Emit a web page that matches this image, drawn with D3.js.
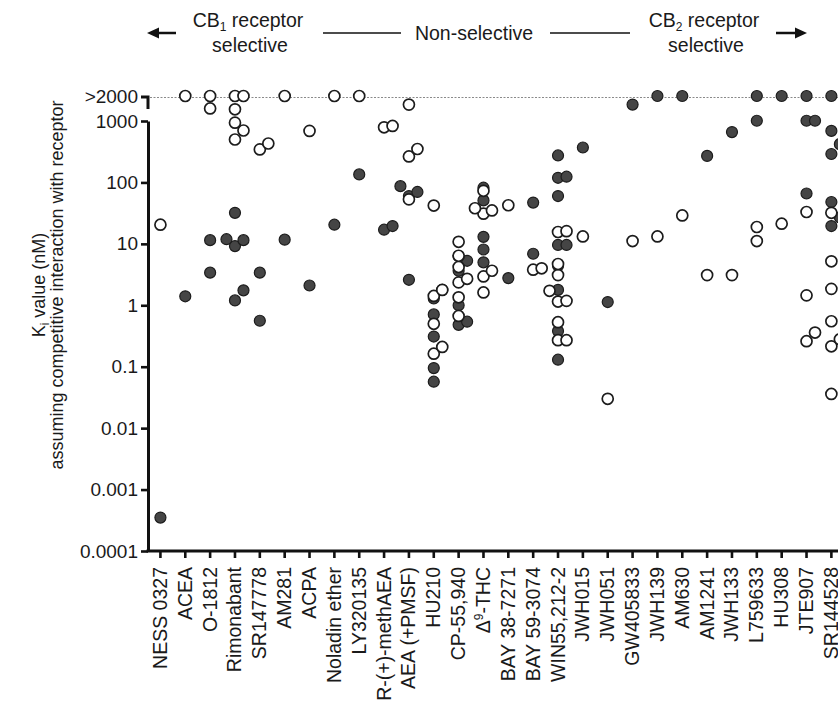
<!DOCTYPE html>
<html lang="en">
<head>
<meta charset="UTF-8">
<script src="https://d3js.org/d3.v7.min.js"></script>
<style>
    body { margin: 0; background: #fff; }
    svg { display: block; font-family: "Liberation Sans", Arial, sans-serif; }
    .cb1 { fill: #454545; stroke: #1c1c1c; stroke-width: 1.2; }
    .cb2 { fill: #fff; stroke: #1c1c1c; stroke-width: 1.7; }
    .axis .domain { stroke: #111; stroke-width: 3; }
    .axis .tick line { stroke: #111; stroke-width: 2.6; }
    .axis text { fill: #1a1a1a; font-size: 19px; font-family: "Liberation Sans", Arial, sans-serif; }
    .head { fill: #1a1a1a; font-size: 19.5px; }
    .rule { stroke: #111; }
</style>
</head>
<body>
<div class="chart"></div>
<script>
const OVER = '>2000'

const compounds = ['NESS 0327', 'ACEA', 'O-1812', 'Rimonabant', 'SR147778', 'AM281', 'ACPA',
    'Noladin ether', 'LY320135', 'R-(+)-methAEA', 'AEA (+PMSF)', 'HU210', 'CP-55,940', 'Δ9-THC',
    'BAY 38-7271', 'BAY 59-3074', 'WIN55,212-2', 'JWH015', 'JWH051', 'GW405833', 'JWH139', 'AM630',
    'AM1241', 'JWH133', 'L759633', 'HU308', 'JTE907', 'SR144528']

// filled symbols
const cb1Ki = [
    [0.00035], [1.4], [3.4, 11.5], [1.2, 1.75, 9.2, 11.5, 11.9, 32], [0.56, 3.4], [11.7], [2.1],
    [20.5], [135], [17, 19.5], [2.6, 60, 70, 87], [0.057, 0.095, 0.31, 0.71, 1.29, 1.78],
    [0.48, 0.54, 1.0, 3.65, 5.3, 6.3], [5.0, 8.1, 13, 51, 82], [2.77], [6.9, 47],
    [0.13, 0.38, 1.78, 4.4, 9.6, 9.6, 60, 119, 124, 275], [370], [1.13], [1850], [OVER], [OVER],
    [270], [660], [1010, OVER], [OVER], [66, 1010, 1010, OVER], [19.5, 27, 48, 290, 420, 690, OVER]
]
// open symbols
const cb2Ki = [
    [20.5], [OVER], [1600, OVER], [500, 700, 940, 1550, OVER, OVER], [345, 430], [OVER], [690],
    [OVER], [OVER], [790, 830], [53, 265, 350, 1850], [0.163, 0.21, 0.5, 1.42, 1.78, 42],
    [0.67, 1.35, 2.36, 2.7, 4.2, 6.4, 10.8], [1.62, 2.95, 3.65, 31, 35, 38, 73], [42.5], [3.8, 4.0],
    [0.27, 0.27, 0.53, 1.15, 1.18, 1.72, 3.1, 4.7, 15.6, 16.1], [13.2], [0.03], [11.1], [13.2], [29],
    [3.1], [3.1], [11.1, 18.8], [21.3], [0.26, 0.36, 1.45, 33], [0.036, 0.215, 0.28, 0.55, 1.85, 5.2, 32]
]

const yTicks = [0.0001, 0.001, 0.01, 0.1, 1, 10, 100, 1000]
const yTickLabels = ['0.0001', '0.001', '0.01', '0.1', '1', '10', '100', '1000']

const width = 838, height = 704

const svg = d3.select('.chart').append('svg')
    .attr('width', width)
    .attr('height', height)

const x = d3.scaleBand()
    .domain(compounds)
    .range([148, 148 + compounds.length * 24.85])

const y = d3.scaleLog()
    .domain([0.0001, 1000])
    .range([551, 121])

// the ">2000" row sits above the axis break
const yOver = d3.scaleOrdinal().domain([OVER]).range([96])
const yPos = v => v === OVER ? yOver(v) : y(v)

// dotted guide for >2000
svg.append('line')
    .attr('x1', 150).attr('x2', width)
    .attr('y1', yOver(OVER) + 1.5).attr('y2', yOver(OVER) + 1.5)
    .attr('stroke', '#8a8a8a')
    .attr('stroke-width', 1)
    .attr('stroke-dasharray', '2,1.5')

// y axis
svg.append('g')
    .attr('class', 'axis')
    .attr('transform', 'translate(148,0)')
    .call(d3.axisLeft(y).tickValues(yTicks).tickFormat((d, i) => yTickLabels[i])
        .tickSize(7).tickSizeOuter(0).tickPadding(3))

// break bracket with the >2000 tick
const brk = svg.append('g').attr('class', 'axis')
brk.append('path')
    .attr('d', `M141,${yOver(OVER) + 1}H148V${yOver(OVER) + 13}`)
    .attr('fill', 'none').attr('stroke', '#111').attr('stroke-width', 3)
brk.append('text')
    .attr('x', 138).attr('y', yOver(OVER) + 1).attr('dy', '0.32em')
    .attr('text-anchor', 'end')
    .text(OVER)

// x axis
const xAxis = svg.append('g')
    .attr('class', 'axis')
    .attr('transform', 'translate(0,551)')
    .call(d3.axisBottom(x).tickSize(7).tickSizeOuter(0))

xAxis.select('.domain').attr('d', `M146.5,0H${width + 10}`)

xAxis.selectAll('.tick text')
    .attr('text-anchor', 'end')
    .attr('dy', null)
    .attr('x', -16)
    .attr('y', 6.5)
    .attr('transform', 'rotate(-90)')
    .style('font-size', '19.5px')
    .each(function(d) {
        if (d !== 'Δ9-THC') return
        const t = d3.select(this).text('')
        t.append('tspan').text('Δ')
        t.append('tspan').attr('dy', -7).style('font-size', '12px').text('9')
        t.append('tspan').attr('dy', 7).text('-THC')
    })

// y title
const ytitle = svg.append('g').attr('class', 'head').style('font-size', '18px')
const t1 = ytitle.append('text')
    .attr('transform', 'translate(45,285) rotate(-90)')
    .attr('text-anchor', 'middle')
t1.append('tspan').text('K')
t1.append('tspan').attr('dy', 4).style('font-size', '12px').text('i')
t1.append('tspan').attr('dy', -4).text(' value (nM)')
ytitle.append('text')
    .attr('transform', 'translate(63,285) rotate(-90)')
    .attr('text-anchor', 'middle')
    .text('assuming competitive interaction with receptor')

// header
const head = svg.append('g').attr('class', 'head')
function subLabel(cx, cy, main, sub, rest) {
    const t = head.append('text').attr('x', cx).attr('y', cy).attr('text-anchor', 'middle')
    t.append('tspan').text(main)
    t.append('tspan').attr('dy', 4).style('font-size', '12px').text(sub)
    t.append('tspan').attr('dy', -4).text(rest)
}
subLabel(248, 27, 'CB', '1', ' receptor')
head.append('text').attr('x', 250).attr('y', 52).attr('text-anchor', 'middle').text('selective')
head.append('text').attr('x', 474).attr('y', 40).attr('text-anchor', 'middle').text('Non-selective')
subLabel(704, 27, 'CB', '2', ' receptor')
head.append('text').attr('x', 706).attr('y', 52).attr('text-anchor', 'middle').text('selective')

head.append('line').attr('class', 'rule').attr('x1', 323).attr('x2', 401).attr('y1', 33).attr('y2', 33).attr('stroke-width', 1.5)
head.append('line').attr('class', 'rule').attr('x1', 550).attr('x2', 630).attr('y1', 33).attr('y2', 33).attr('stroke-width', 1.5)
head.append('line').attr('class', 'rule').attr('x1', 155).attr('x2', 176).attr('y1', 33).attr('y2', 33).attr('stroke-width', 2.5)
head.append('path').attr('d', 'M147,33L159,27.5V38.5Z').attr('fill', '#111')
head.append('line').attr('class', 'rule').attr('x1', 776).attr('x2', 798).attr('y1', 33).attr('y2', 33).attr('stroke-width', 2.5)
head.append('path').attr('d', 'M807,33L795,27.5V38.5Z').attr('fill', '#111')

// spread points that would sit on top of each other (bottom up)
function spread(values) {
    const step = 8.5, near = 11
    const placed = []
    values.map(v => ({ v, py: yPos(v) }))
        .sort((a, b) => b.py - a.py)
        .forEach(p => {
            for (const k of [0, 1, -1, 2, -2, 3, -3]) {
                if (!placed.some(q => q.k === k && Math.abs(q.py - p.py) < near)) { p.k = k; break }
            }
            p.dx = p.k * step
            placed.push(p)
        })
    return placed
}

const plot = svg.append('g')
;[['cb1', cb1Ki], ['cb2', cb2Ki]].forEach(([cls, series]) => {
    compounds.forEach((c, i) => {
        const cx = x(c) + x.bandwidth() / 2
        plot.selectAll(null)
            .data(spread(series[i]))
            .enter().append('circle')
            .attr('class', cls)
            .attr('cx', d => cx + d.dx)
            .attr('cy', d => d.py)
            .attr('r', 5.5)
    })
})
</script>
</body>
</html>
